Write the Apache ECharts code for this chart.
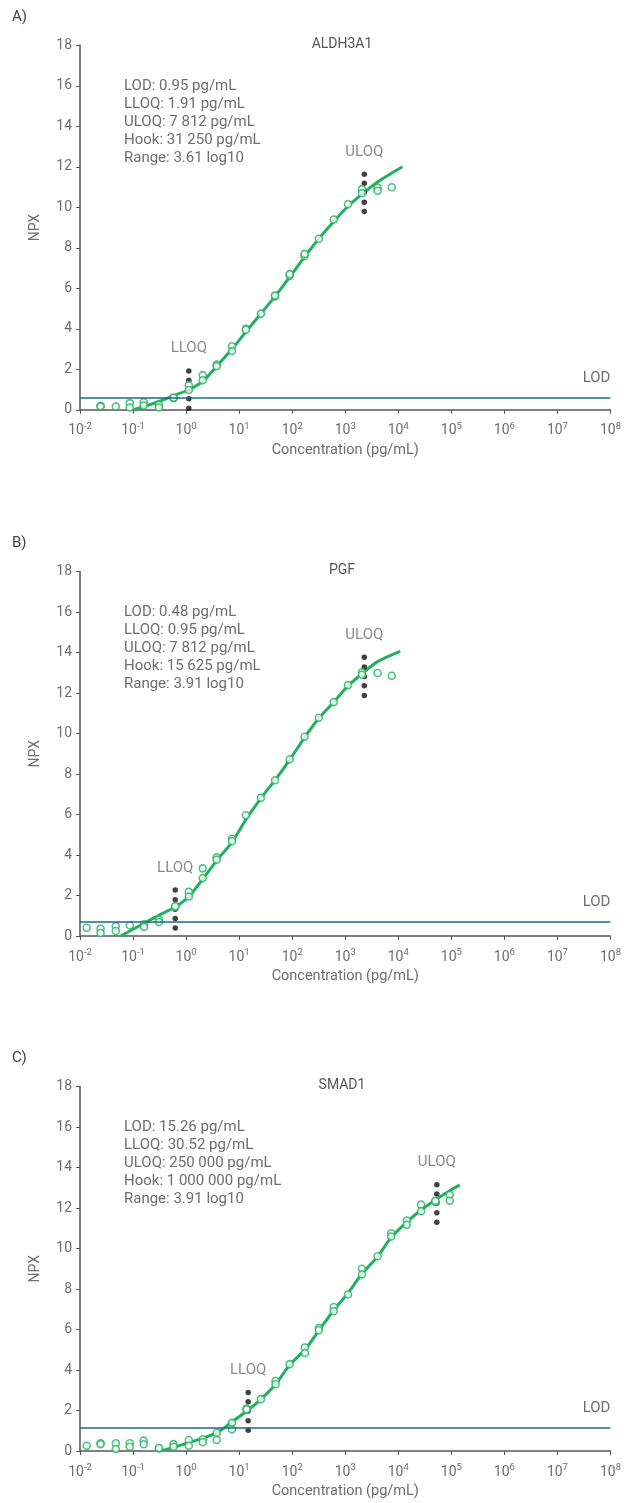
<!DOCTYPE html>
<html><head><meta charset="utf-8">
<script src="https://cdn.jsdelivr.net/npm/echarts@6/dist/echarts.min.js"></script>
<style>html,body{margin:0;padding:0;background:#fff}#c{width:624px;height:1503px}</style>
</head><body><div id="c"></div>
<script>
// ---------- DATA ----------
const panelLabels = ['A)', 'B)', 'C)'];
const titles = ['ALDH3A1', 'PGF', 'SMAD1'];
const infoA = ['LOD: 0.95 pg/mL', 'LLOQ: 1.91 pg/mL', 'ULOQ: 7 812 pg/mL', 'Hook: 31 250 pg/mL', 'Range: 3.61 log10'];
const infoB = ['LOD: 0.48 pg/mL', 'LLOQ: 0.95 pg/mL', 'ULOQ: 7 812 pg/mL', 'Hook: 15 625 pg/mL', 'Range: 3.91 log10'];
const infoC = ['LOD: 15.26 pg/mL', 'LLOQ: 30.52 pg/mL', 'ULOQ: 250 000 pg/mL', 'Hook: 1 000 000 pg/mL', 'Range: 3.91 log10'];
const lodValues = [0.6, 0.7, 1.16];
const xTickValues = [0.01, 0.1, 1, 10, 100, 1000, 1e4, 1e5, 1e6, 1e7, 1e8];
const yTickValues = [0, 2, 4, 6, 8, 10, 12, 14, 16, 18];

// Fitted curves (concentration, NPX)
const curveA = [[0.104,0],[0.308,0.41],[0.581,0.7],[1.125,0.99],[2.06,1.4],[3.77,2.15],[7.33,3.0],[13.4,3.85],[25.7,4.75],[47.5,5.6],[89.7,6.55],[171,7.55],[318,8.45],[608,9.3],[1129,10.05],[2067,10.65],[4075,11.25],[12000,12.0]];
const curveB = [[0.0588,0],[0.161,0.63],[0.308,1.02],[0.624,1.44],[1.125,1.94],[2.06,2.81],[3.77,3.72],[7.33,4.63],[13.4,5.75],[25.7,6.8],[47.5,7.7],[89.7,8.7],[171,9.8],[318,10.75],[608,11.55],[1129,12.35],[2067,12.95],[4075,13.55],[10870,14.06]];
const curveC = [[0.341,0],[1.125,0.41],[3.77,0.9],[7.33,1.44],[13.4,1.94],[25.7,2.55],[48.6,3.3],[89.7,4.25],[174,5.0],[318,5.95],[608,6.95],[1129,7.8],[2067,8.75],[4075,9.6],[7360,10.55],[14450,11.3],[26900,11.9],[50000,12.4],[93500,12.85],[144000,13.14]];

// Measured points (concentration, NPX)
const pointsA = [[0.0244,0.2],[0.0244,0.17],[0.0473,0.16],[0.0867,0.33],[0.0867,0.11],[0.159,0.38],[0.159,0.21],[0.308,0.24],[0.308,0.11],[0.581,0.57],[0.581,0.6],[1.125,1.22],[1.125,0.98],[2.06,1.71],[2.06,1.46],[3.77,2.23],[3.77,2.15],[7.33,3.14],[7.33,2.9],[13.4,4.0],[13.4,3.95],[25.7,4.75],[47.5,5.6],[47.5,5.65],[89.7,6.62],[89.7,6.7],[171,7.6],[171,7.7],[318,8.45],[608,9.4],[1129,10.15],[2067,10.9],[2067,10.7],[4075,10.97],[4075,10.82],[7550,10.99]];
const pointsB = [[0.0134,0.41],[0.0244,0.36],[0.0244,0.15],[0.0473,0.48],[0.0473,0.25],[0.0867,0.53],[0.161,0.58],[0.161,0.45],[0.308,0.81],[0.308,0.69],[0.624,1.44],[0.624,1.47],[1.125,2.18],[1.125,1.95],[2.06,3.34],[2.06,2.86],[3.77,3.89],[3.77,3.77],[7.33,4.8],[7.33,4.68],[13.4,5.96],[25.7,6.83],[47.5,7.69],[89.7,8.73],[171,9.84],[318,10.78],[608,11.55],[1129,12.39],[2067,13.02],[2067,12.9],[4075,12.99],[7550,12.85]];
const pointsC = [[0.0134,0.26],[0.0244,0.38],[0.0244,0.34],[0.0473,0.38],[0.0473,0.1],[0.0867,0.38],[0.0867,0.21],[0.159,0.51],[0.159,0.33],[0.308,0.13],[0.308,0.15],[0.581,0.34],[0.581,0.21],[1.125,0.54],[1.125,0.26],[2.06,0.58],[2.06,0.43],[3.77,0.9],[3.77,0.54],[7.33,1.39],[7.33,1.07],[13.8,2.1],[13.8,2.05],[25.7,2.56],[48.6,3.46],[48.6,3.3],[89.7,4.29],[174,5.11],[174,4.84],[318,6.07],[318,5.96],[608,7.11],[608,6.9],[1129,7.73],[2067,9.0],[2067,8.72],[4075,9.62],[7360,10.75],[7360,10.59],[14450,11.38],[14450,11.17],[26900,12.17],[26900,11.84],[50000,12.3],[50000,12.35],[93500,12.65],[93500,12.36]];

// LLOQ / ULOQ replicate dots: concentration and NPX values
const lloqXA = 1.125, lloqYA = [1.92, 1.46, 1.01, 0.54, 0.08];
const uloqXA = 2290, uloqYA = [11.63, 11.19, 10.73, 10.25, 9.79];
const lloqXB = 0.624, lloqYB = [2.27, 1.79, 1.32, 0.86, 0.40];
const uloqXB = 2290, uloqYB = [13.76, 13.29, 12.82, 12.36, 11.88];
const lloqXC = 14.8, lloqYC = [2.89, 2.43, 1.97, 1.49, 1.03];
const uloqXC = 53300, uloqYC = [13.15, 12.69, 12.23, 11.76, 11.3];

// ---------- CHART ----------
const GREEN = '#22b060';
const TEAL = '#1b6b80';
const TEXT = '#6e6e6e';
const AXIS = '#555555';
const FONT = 'Roboto, "Liberation Sans", sans-serif';

const panels = [
  {curve: curveA, points: pointsA, lx: lloqXA, ly: lloqYA, ux: uloqXA, uy: uloqYA, info: infoA},
  {curve: curveB, points: pointsB, lx: lloqXB, ly: lloqYB, ux: uloqXB, uy: uloqYB, info: infoB},
  {curve: curveC, points: pointsC, lx: lloqXC, ly: lloqYC, ux: uloqXC, uy: uloqYC, info: infoC}
];
const gridTops = [45.3, 571.5, 1086.5];
const gridH = 364.5;
const gridLeft = 80, gridW = 533;

const grids = [], xAxes = [], yAxes = [], series = [], graphics = [];

function dots(x, ys, name) {
  return ys.map((y, i) => i === 0
    ? {value: [x, y], label: {show: true, formatter: name, position: 'top', distance: 12,
        color: TEXT, fontSize: 15, fontFamily: FONT}}
    : {value: [x, y]});
}

panels.forEach((p, i) => {
  grids.push({left: gridLeft, top: gridTops[i], width: gridW, height: gridH});
  xAxes.push({
    type: 'log', logBase: 10, gridIndex: i, min: 0.01, max: 1e8,
    name: 'Concentration (pg/mL)', nameLocation: 'middle', nameGap: 33,
    nameTextStyle: {color: TEXT, fontSize: 14.5, fontFamily: FONT},
    axisLine: {show: true, lineStyle: {color: AXIS, width: 1.5}},
    axisTick: {show: true, length: 4, lineStyle: {color: AXIS}, customValues: xTickValues},
    splitLine: {show: false}, minorTick: {show: false},
    axisLabel: {
      customValues: xTickValues, margin: 12,
      formatter: v => '{b|10}{s|' + Math.round(Math.log10(v)) + '}',
      rich: {
        b: {fontSize: 14, color: TEXT, fontFamily: FONT, lineHeight: 18},
        s: {fontSize: 9.5, color: TEXT, fontFamily: FONT, lineHeight: 18, verticalAlign: 'top', padding: [0, 0, 6, 0]}
      }
    }
  });
  yAxes.push({
    type: 'value', gridIndex: i, min: 0, max: 18, interval: 2,
    name: 'NPX', nameLocation: 'middle', nameGap: 38, nameRotate: 90,
    nameTextStyle: {color: TEXT, fontSize: 14, fontFamily: FONT},
    axisLine: {show: true, lineStyle: {color: AXIS, width: 1.5}},
    axisTick: {show: true, length: 4, lineStyle: {color: AXIS}},
    splitLine: {show: false},
    axisLabel: {color: TEXT, fontSize: 14, fontFamily: FONT, margin: 8}
  });
  series.push({
    type: 'line', xAxisIndex: i, yAxisIndex: i, data: p.curve, showSymbol: false, smooth: 0.3,
    lineStyle: {color: GREEN, width: 3}, z: 2, silent: true,
    markLine: {
      silent: true, symbol: 'none',
      lineStyle: {color: TEAL, width: 1.5, type: 'solid'},
      label: {show: true, position: 'insideEndTop', formatter: 'LOD', color: TEXT, fontSize: 15, fontFamily: FONT, distance: [0, 12]},
      data: [{yAxis: lodValues[i]}]
    }
  });
  series.push({
    type: 'scatter', xAxisIndex: i, yAxisIndex: i, data: dots(p.lx, p.ly, 'LLOQ').concat(dots(p.ux, p.uy, 'ULOQ')),
    symbol: 'circle', symbolSize: 5.5, itemStyle: {color: '#111111'}, z: 3
  });
  series.push({
    type: 'scatter', xAxisIndex: i, yAxisIndex: i, data: p.points,
    symbol: 'circle', symbolSize: 7, itemStyle: {color: '#ffffff', borderColor: GREEN, borderWidth: 1.6}, z: 4
  });
  graphics.push({type: 'text', left: 12, top: gridTops[i] - 36, style: {text: panelLabels[i], fill: '#444', font: '15px ' + FONT}});
  graphics.push({type: 'text', x: 342, y: gridTops[i] - 1, style: {text: titles[i], fill: '#555', font: '14px ' + FONT, textAlign: 'center', textVerticalAlign: 'middle'}});
  graphics.push({type: 'text', x: 124, y: gridTops[i] + 32, style: {text: p.info.join('\n'), fill: TEXT, font: '15px ' + FONT, lineHeight: 18, textAlign: 'left'}});
});

const chart = echarts.init(document.getElementById('c'), null, {renderer: 'canvas'});
chart.setOption({
  animation: false,
  backgroundColor: '#ffffff',
  grid: grids, xAxis: xAxes, yAxis: yAxes, series: series, graphic: graphics
});
</script></body></html>
